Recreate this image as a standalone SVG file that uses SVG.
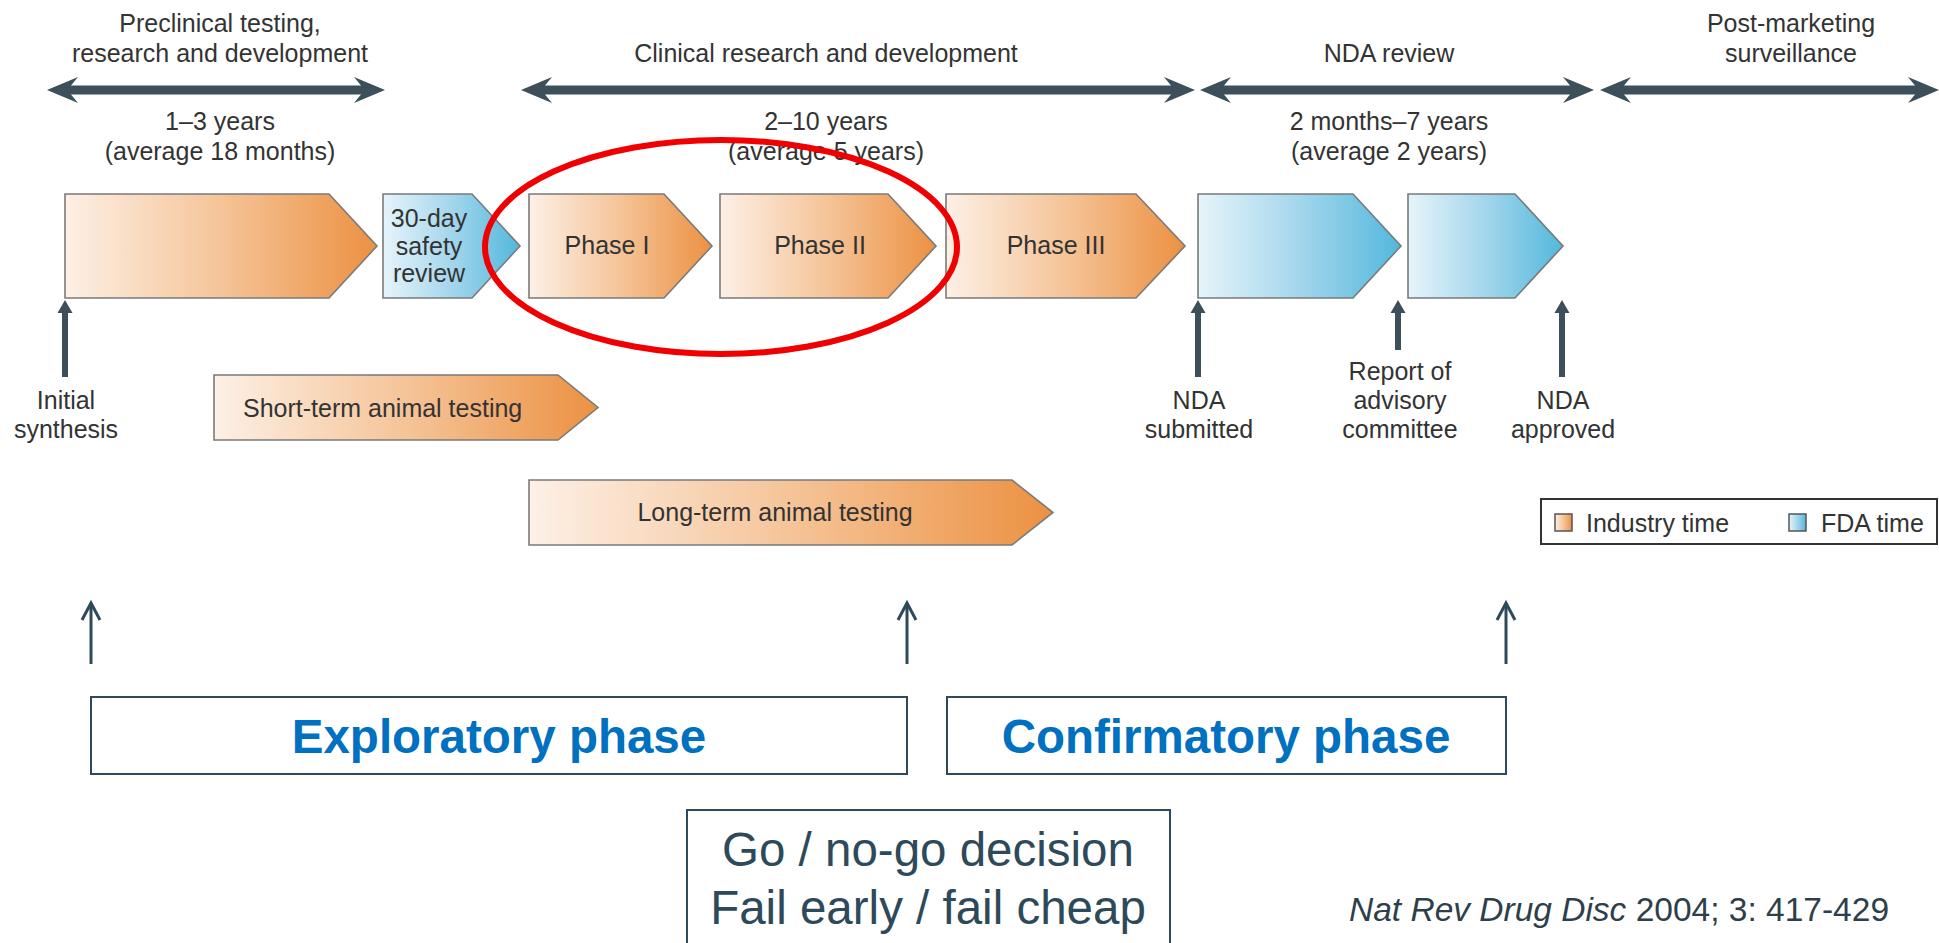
<svg xmlns="http://www.w3.org/2000/svg" width="1939" height="943" viewBox="0 0 1939 943">
<defs>
<linearGradient id="gO" x1="0" y1="0" x2="1" y2="0">
<stop offset="0" stop-color="#fdf0e6"/><stop offset="0.5" stop-color="#f5c498"/><stop offset="1" stop-color="#ec9142"/>
</linearGradient>
<linearGradient id="gB" x1="0" y1="0" x2="1" y2="0">
<stop offset="0" stop-color="#e6f4fb"/><stop offset="0.5" stop-color="#a4d6ec"/><stop offset="1" stop-color="#52b8dc"/>
</linearGradient>
<path id="hd" d="M0,0 L31,-13 L24,-4.5 L24,4.5 L31,13 Z"/>
<path id="uh" d="M0,0 L7.5,13 L-7.5,13 Z"/>
</defs>
<style>
text{font-family:"Liberation Sans",Arial,sans-serif;fill:#333;}
.t{font-size:25px;text-anchor:middle;}
.tl{font-size:25px;}
.o{fill:url(#gO);stroke:#7a7a7a;stroke-width:1.6;}
.b{fill:url(#gB);stroke:#7a7a7a;stroke-width:1.6;}
.ar{fill:#3d4f5a;}
.vl{stroke:#3d4f5a;stroke-width:6;}
.thin{stroke:#2e4a5a;stroke-width:3;fill:none;}
.frame{fill:#fff;stroke:#2e4a5a;stroke-width:2;}
.big{font-size:47.5px;font-weight:bold;fill:#0070c0;text-anchor:middle;}
.go{font-size:47.5px;fill:#2e4a5a;text-anchor:middle;}
</style>
<rect width="1939" height="943" fill="#fff"/>

<g id="labels-top">
<text class="t" x="220" y="32">Preclinical testing,</text>
<text class="t" x="220" y="62">research and development</text>
<text class="t" x="220" y="130">1–3 years</text>
<text class="t" x="220" y="160">(average 18 months)</text>
<text class="t" x="826" y="62">Clinical research and development</text>
<text class="t" x="826" y="130">2–10 years</text>
<text class="t" x="826" y="160">(average 5 years)</text>
<text class="t" x="1389" y="62">NDA review</text>
<text class="t" x="1389" y="130">2 months–7 years</text>
<text class="t" x="1389" y="160">(average 2 years)</text>
<text class="t" x="1791" y="32">Post-marketing</text>
<text class="t" x="1791" y="62">surveillance</text>
</g>

<g id="connectors">
<g id="span-arrows" class="ar">
<rect x="68" y="85.5" width="296" height="9"/>
<use href="#hd" transform="translate(47,90)"/>
<use href="#hd" transform="translate(385,90) scale(-1,1)"/>
<rect x="542" y="85.5" width="632" height="9"/>
<use href="#hd" transform="translate(521,90)"/>
<use href="#hd" transform="translate(1195,90) scale(-1,1)"/>
<rect x="1221" y="85.5" width="352" height="9"/>
<use href="#hd" transform="translate(1200,90)"/>
<use href="#hd" transform="translate(1594,90) scale(-1,1)"/>
<rect x="1621" y="85.5" width="298" height="9"/>
<use href="#hd" transform="translate(1600,90)"/>
<use href="#hd" transform="translate(1939,90) scale(-1,1)"/>
</g>
<g id="milestone-arrows">
<line class="vl" x1="65" y1="310" x2="65" y2="377"/><use class="ar" href="#uh" transform="translate(65,300)"/>
<line class="vl" x1="1198" y1="310" x2="1198" y2="377"/><use class="ar" href="#uh" transform="translate(1198,300)"/>
<line class="vl" x1="1398" y1="310" x2="1398" y2="350"/><use class="ar" href="#uh" transform="translate(1398,300)"/>
<line class="vl" x1="1562" y1="310" x2="1562" y2="377"/><use class="ar" href="#uh" transform="translate(1562,300)"/>
</g>
<g id="phase-arrows">
<line class="thin" x1="91" y1="604" x2="91" y2="664"/><path class="thin" d="M82,620 L91,603 L100,620"/>
<line class="thin" x1="907" y1="604" x2="907" y2="664"/><path class="thin" d="M898,620 L907,603 L916,620"/>
<line class="thin" x1="1506" y1="604" x2="1506" y2="664"/><path class="thin" d="M1497,620 L1506,603 L1515,620"/>
</g>
</g>

<g id="preclinical-box"><path class="o" d="M65,194 H329 L377,246 L329,298 H65 Z"/></g>
<g id="safety-review"><path class="b" d="M383,194 H472 L520,246 L472,298 H383 Z"/>
<text class="t" x="429" y="227">30-day</text><text class="t" x="429" y="255">safety</text><text class="t" x="429" y="282">review</text></g>
<g id="phase1"><path class="o" d="M529,194 H664 L712,246 L664,298 H529 Z"/><text class="t" x="607" y="254">Phase I</text></g>
<g id="phase2"><path class="o" d="M720,194 H888 L936,246 L888,298 H720 Z"/><text class="t" x="820" y="254">Phase II</text></g>
<g id="phase3"><path class="o" d="M946,194 H1136 L1185,246 L1136,298 H946 Z"/><text class="t" x="1056" y="254">Phase III</text></g>
<g id="nda-review-1"><path class="b" d="M1198,194 H1353 L1401,246 L1353,298 H1198 Z"/></g>
<g id="nda-review-2"><path class="b" d="M1408,194 H1515 L1563,246 L1515,298 H1408 Z"/></g>

<g id="short-term"><path class="o" d="M214,375 H558 L598,407.5 L558,440 H214 Z"/><text class="tl" x="243" y="417">Short-term animal testing</text></g>
<g id="long-term"><path class="o" d="M529,480 H1012 L1053,512.5 L1012,545 H529 Z"/><text class="t" x="775" y="521">Long-term animal testing</text></g>

<g id="milestone-labels">
<text class="t" x="66" y="409">Initial</text><text class="t" x="66" y="438">synthesis</text>
<text class="t" x="1199" y="409">NDA</text><text class="t" x="1199" y="438">submitted</text>
<text class="t" x="1400" y="380">Report of</text><text class="t" x="1400" y="409">advisory</text><text class="t" x="1400" y="438">committee</text>
<text class="t" x="1563" y="409">NDA</text><text class="t" x="1563" y="438">approved</text>
</g>

<g id="legend">
<rect x="1541" y="499" width="396" height="45" fill="#fff" stroke="#333" stroke-width="2"/>
<rect x="1555" y="514" width="17" height="17" fill="url(#gO)" stroke="#555" stroke-width="1.5"/>
<text class="tl" x="1586" y="532">Industry time</text>
<rect x="1789" y="514" width="17" height="17" fill="url(#gB)" stroke="#555" stroke-width="1.5"/>
<text class="tl" x="1821" y="532">FDA time</text>
</g>

<g id="highlight"><ellipse cx="721" cy="247" rx="236" ry="107" fill="none" stroke="#f00000" stroke-width="6"/></g>

<g id="exploratory"><rect class="frame" x="91" y="697" width="816" height="77"/><text class="big" x="499" y="753">Exploratory phase</text></g>
<g id="confirmatory"><rect class="frame" x="947" y="697" width="559" height="77"/><text class="big" x="1226" y="753">Confirmatory phase</text></g>
<g id="decision"><rect class="frame" x="687" y="810" width="483" height="150"/>
<text class="go" x="928" y="866">Go / no-go decision</text><text class="go" x="928" y="924">Fail early / fail cheap</text></g>

<g id="citation"><text x="1349" y="921" style="font-size:33.5px;fill:#2e3f4a"><tspan font-style="italic">Nat Rev Drug Disc</tspan> 2004; 3: 417-429</text></g>
</svg>
